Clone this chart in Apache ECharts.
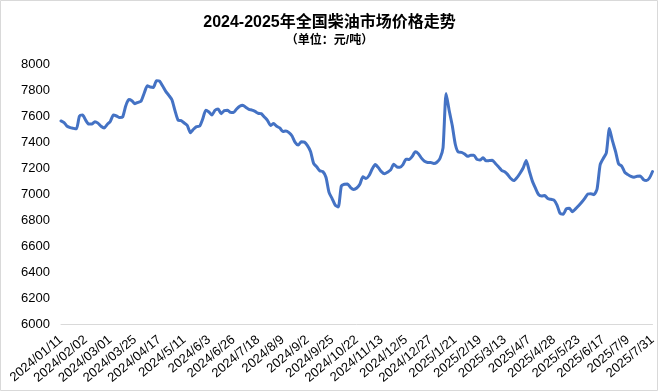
<!DOCTYPE html>
<html>
<head>
<meta charset="utf-8">
<script src="https://cdn.jsdelivr.net/npm/echarts@6/dist/echarts.min.js"></script>
<style>
html,body{margin:0;padding:0;background:#fff;}
#c{width:659px;height:392px;}
</style>
</head>
<body>
<div id="c"></div>
<script>
// Tick labels on the category axis (one every 8 data points)
var dateLabels = [
  '2024/01/11','2024/02/02','2024/03/01','2024/03/25','2024/04/17','2024/5/11',
  '2024/6/3','2024/6/26','2024/7/18','2024/8/9','2024/9/2','2024/9/25',
  '2024/10/22','2024/11/13','2024/12/5','2024/12/27','2025/1/21','2025/2/19',
  '2025/3/13','2025/4/7','2025/4/28','2025/5/23','2025/6/17','2025/7/9','2025/7/31'
];
var pointsPerLabel = 8;

// Diesel price (yuan/ton)
var prices = [
  7562,7549,7521,7510,7505,7501,7600,7607,
  7568,7538,7538,7556,7545,7521,7508,7535,
  7558,7607,7600,7588,7592,7677,7726,7718,
  7695,7705,7715,7775,7833,7823,7820,7872,
  7869,7830,7789,7759,7725,7641,7568,7564,
  7546,7527,7472,7498,7518,7522,7577,7644,
  7631,7608,7644,7653,7618,7642,7644,7628,
  7627,7654,7675,7683,7666,7651,7645,7635,
  7621,7618,7593,7567,7527,7542,7521,7508,
  7480,7485,7472,7446,7397,7376,7402,7399,
  7372,7327,7236,7209,7179,7172,7129,7012,
  6965,6915,6900,7062,7075,7077,7049,7035,
  7046,7075,7133,7120,7142,7192,7226,7203,
  7172,7156,7168,7185,7229,7209,7206,7226,
  7268,7265,7289,7325,7310,7276,7252,7243,
  7242,7235,7244,7273,7354,7773,7642,7527,
  7381,7322,7320,7308,7290,7298,7298,7266,
  7262,7279,7255,7257,7259,7235,7209,7182,
  7171,7149,7119,7103,7126,7160,7200,7258,
  7177,7099,7045,6996,6984,6988,6965,6959,
  6954,6915,6850,6845,6885,6890,6864,6885,
  6910,6936,6966,7000,7002,6995,7039,7225,
  7273,7315,7504,7408,7327,7231,7215,7167,
  7149,7135,7129,7136,7139,7112,7103,7123,
  7173
];

var yMin = 6000, yMax = 8000, yStep = 200;

var categories = prices.map(function (v, i) {
  return i % pointsPerLabel === 0 ? dateLabels[i / pointsPerLabel] : '';
});

var chart = echarts.init(document.getElementById('c'), null, {renderer: 'canvas'});
chart.setOption({
  animation: false,
  backgroundColor: '#ffffff',
  title: [
    {
      text: '2024-2025年全国柴油市场价格走势',
      left: 'center', top: 10,
      textStyle: {fontFamily: 'Liberation Sans, Noto Sans CJK SC', fontSize: 16, fontWeight: 'bold', color: '#000'}
    },
    {
      text: '（单位：元/吨）',
      left: 'center', top: 30,
      textStyle: {fontFamily: 'Liberation Sans, Noto Sans CJK SC', fontSize: 12, fontWeight: 'bold', color: '#000'}
    }
  ],
  graphic: [{
    type: 'rect', silent: true,
    shape: {x: 0.5, y: 0.5, width: 657, height: 390},
    style: {fill: 'none', stroke: '#d9d9d9', lineWidth: 1}
  }],
  grid: {left: 61, right: 4, top: 64, bottom: 68, containLabel: false},
  xAxis: {
    type: 'category',
    data: categories,
    boundaryGap: false,
    axisLine: {show: true, lineStyle: {color: '#d9d9d9', width: 1}},
    axisTick: {show: false},
    axisLabel: {
      interval: pointsPerLabel - 1,
      rotate: 40,
      margin: 14,
      fontSize: 13,
      fontFamily: 'Liberation Sans, Arial, sans-serif',
      color: '#000'
    },
    splitLine: {show: false}
  },
  yAxis: {
    type: 'value',
    min: yMin, max: yMax, interval: yStep,
    axisLine: {show: false},
    axisTick: {show: false},
    splitLine: {show: false},
    axisLabel: {
      margin: 11,
      fontSize: 13,
      fontFamily: 'Liberation Sans, Arial, sans-serif',
      color: '#000',
      formatter: function (v) { return String(v); }
    }
  },
  series: [{
    type: 'line',
    data: prices,
    showSymbol: false,
    symbol: 'none',
    smooth: 0.2,
    lineStyle: {color: '#4472C4', width: 3, join: 'round', cap: 'round'}
  }]
});
</script>
</body>
</html>
